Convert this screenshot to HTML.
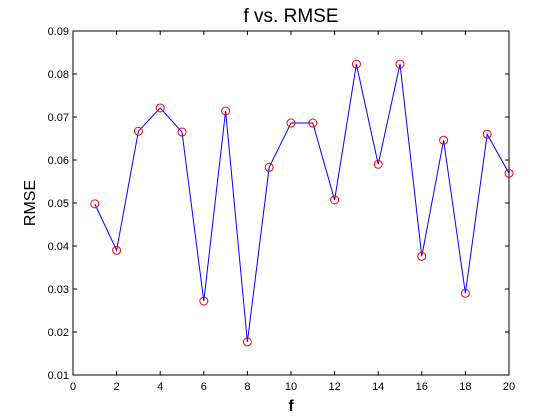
<!DOCTYPE html>
<html><head><meta charset="utf-8"><style>
body{margin:0;background:#fff;}
svg{display:block;font-family:"Liberation Sans",sans-serif;}
</style></head><body>
<svg id="chart" width="560" height="420"></svg>
<script>
const fValues=[1,2,3,4,5,6,7,8,9,10,11,12,13,14,15,16,17,18,19,20];
const rmseValues=[0.0498,0.0390,0.0667,0.0721,0.0665,0.0272,0.0714,0.0177,0.0583,0.0686,0.0686,0.0507,0.0823,0.0590,0.0823,0.0376,0.0646,0.0290,0.0660,0.0569];
const xTicks=[0,2,4,6,8,10,12,14,16,18,20];
const yTicks=[0.01,0.02,0.03,0.04,0.05,0.06,0.07,0.08,0.09];
const L=73,R=509,T=31,B=375;
const xs=v=>L+(v-0)/20*(R-L);
const ys=v=>B-(v-0.01)/0.08*(B-T);
const NS="http://www.w3.org/2000/svg";
const svg=document.getElementById('chart');
function mk(tag,attrs,parent){const e=document.createElementNS(NS,tag);for(const k in attrs)e.setAttribute(k,attrs[k]);(parent||svg).appendChild(e);return e;}
const frame=mk('rect',{x:L,y:T,width:R-L,height:B-T,fill:'#fff',stroke:'#000','stroke-width':1});


xTicks.forEach(t=>{
  const x=xs(t);
  mk('line',{x1:x,y1:B,x2:x,y2:B-4,stroke:'#000'});
  mk('line',{x1:x,y1:T,x2:x,y2:T+4,stroke:'#000'});
  const tx=mk('text',{x:x,y:B+15,'font-size':11,'text-anchor':'middle'});
  tx.textContent=t;
  
  
});
yTicks.forEach(t=>{
  const y=ys(t);
  mk('line',{x1:L,y1:y,x2:L+4,y2:y,stroke:'#000'});
  mk('line',{x1:R,y1:y,x2:R-4,y2:y,stroke:'#000'});
  const tx=mk('text',{x:L-4,y:y+4,'font-size':11,'text-anchor':'end'});
  tx.textContent=t.toFixed(2);
  
  
});
const line=mk('polyline',{points:fValues.map((f,i)=>xs(f)+','+ys(rmseValues[i])).join(' '),fill:'none',stroke:'#0000ff','stroke-width':1});


fValues.forEach((f,i)=>{
  const c=mk('circle',{cx:xs(f),cy:ys(rmseValues[i]),r:4,fill:'none',stroke:'#ff0000','stroke-width':1});
  
  
});
const title=mk('text',{x:(L+R)/2,y:22,'font-size':19,'text-anchor':'middle'});
title.textContent='f vs. RMSE';


const xl=mk('text',{x:(L+R)/2,y:411,'font-size':16,'text-anchor':'middle','font-weight':'bold'});
xl.textContent='f';


const yl=mk('text',{x:0,y:0,'font-size':16,'text-anchor':'middle',transform:'translate(35,'+((T+B)/2)+') rotate(-90)'});
yl.textContent='RMSE';


</script>
</body></html>
